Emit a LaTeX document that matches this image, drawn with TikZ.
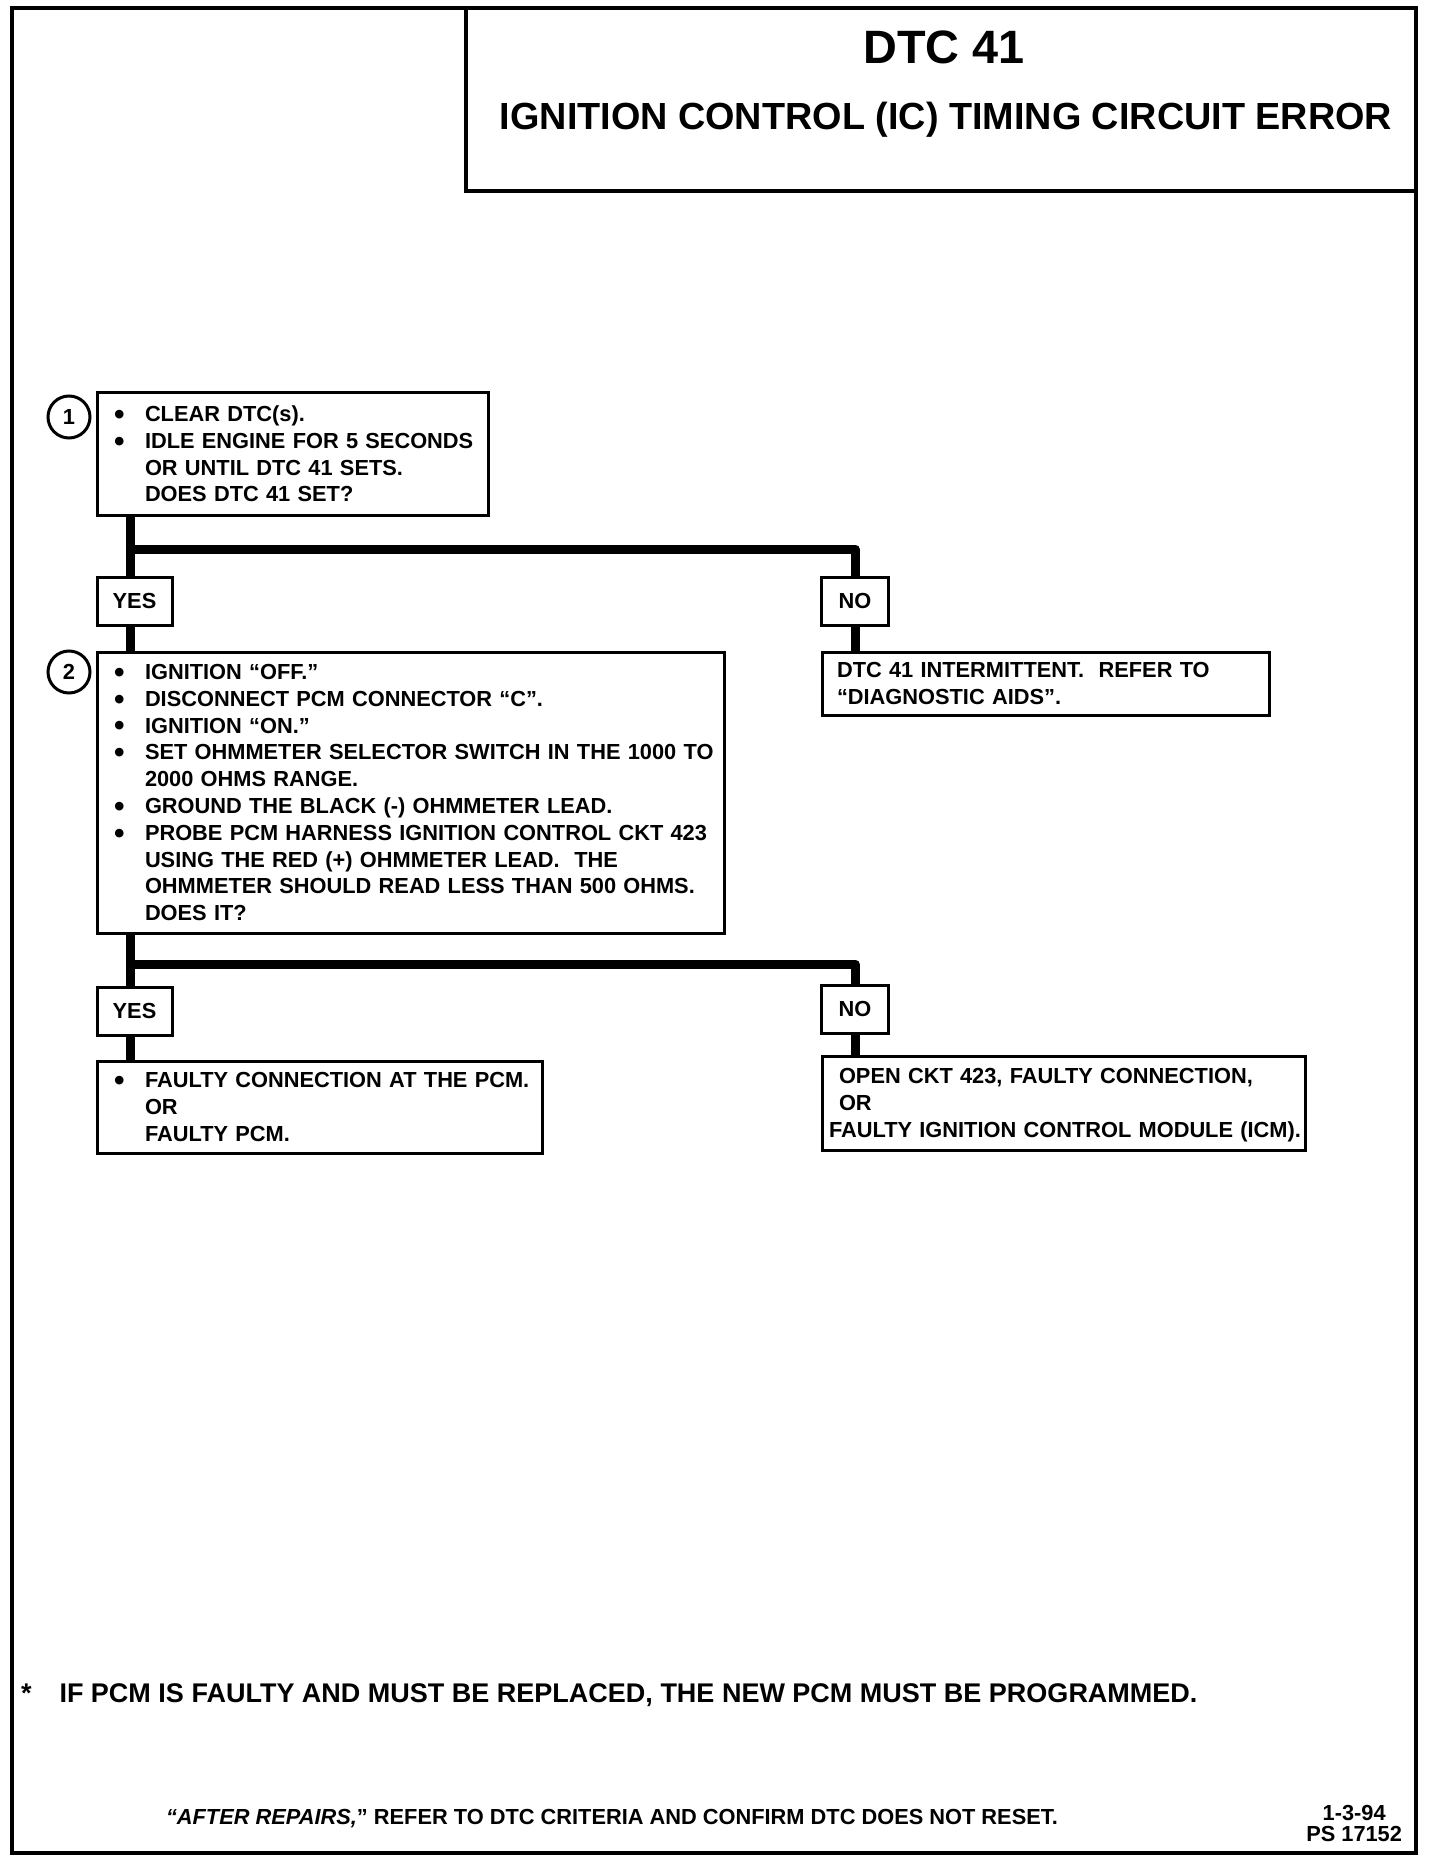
\documentclass[tikz,border=0pt]{standalone}
\usepackage{fontspec}
\setmainfont{Liberation Sans}
\usetikzlibrary{positioning}
\setlength{\parindent}{0pt}
\newcommand{\bitem}{\hspace*{8.5pt}\makebox[15.5pt][l]{\raisebox{-1.4pt}{\fontsize{15}{13.4}\selectfont\textbullet}}} % bullet line
\newcommand{\bcont}{\hspace*{24pt}} % follow-on line under a bullet
\tikzset{
	every node/.style={font=\bfseries\fontsize{10.9}{13.4}\selectfont, outer sep=0pt}, % bold sans text everywhere
	stepbox/.style={draw, line width=1.5pt, anchor=north west, align=left, inner sep=0pt}, % the text boxes
	answer/.style={draw, line width=1.5pt, minimum height=24pt, inner sep=0pt}, % YES / NO tags
	numcirc/.style={draw, circle, line width=1.5pt, minimum size=21pt, inner sep=0pt}, % step numbers
	flow/.style={line width=4.5pt, line join=round}, % heavy flow lines
}

\begin{document}
\begin{tikzpicture}[x=0.5pt, y=-0.5pt]
	\useasboundingbox (0,0) rectangle (1440,1866);
	\draw[line width=2pt] (12,8) rectangle (1416,1853);
	\draw[line width=2pt] (466,8) rectangle (1416,191);
	\node[anchor=base, font=\bfseries\fontsize{23.4}{28}\selectfont] (code) at (944,64) {DTC 41};
	\node[anchor=base, font=\bfseries\fontsize{18.9}{22}\selectfont] (title) at (946,130) {IGNITION CONTROL (IC) TIMING CIRCUIT ERROR};

	% step 1
	\node[stepbox, text width=195.5pt, minimum height=61pt] (s1) at (97,393)
		{\bitem CLEAR DTC(s).\\ \bitem IDLE ENGINE FOR 5 SECONDS\\ \bcont OR UNTIL DTC 41 SETS.\\ \bcont DOES DTC 41 SET?};
	\node[numcirc] (n1) at (69,417) {1};
	\node[answer, minimum width=37.5pt, below=31pt of s1.south west, anchor=north west] (yes1) {YES};
	\node[answer, minimum width=33.5pt] (no1) at (855,601) {NO};
	\node[stepbox, text width=223.5pt, minimum height=31.5pt] (r1) at (822,652)
		{\hspace*{7.5pt}DTC 41 INTERMITTENT.\ \ REFER TO\\ \hspace*{7.5pt}“DIAGNOSTIC AIDS”.};

	% step 2
	\node[stepbox, text width=313.5pt, minimum height=140.5pt, below=13.5pt of yes1.south west, anchor=north west] (s2)
		{\bitem IGNITION “OFF.”\\ \bitem DISCONNECT PCM CONNECTOR “C”.\\ \bitem IGNITION “ON.”\\
		\bitem SET OHMMETER SELECTOR SWITCH IN THE 1000 TO\\ \bcont 2000 OHMS RANGE.\\
		\bitem GROUND THE BLACK (-) OHMMETER LEAD.\\ \bitem PROBE PCM HARNESS IGNITION CONTROL CKT 423\\
		\bcont USING THE RED (+) OHMMETER LEAD.\ \ THE\\ \bcont OHMMETER SHOULD READ LESS THAN 500 OHMS.\\ \bcont DOES IT?};
	\node[numcirc] (n2) at (69,672) {2};
	\node[answer, minimum width=37.5pt, below=27pt of s2.south west, anchor=north west] (yes2) {YES};
	\node[answer, minimum width=33.5pt] (no2) at (855,1009) {NO};
	\node[stepbox, text width=222.5pt, minimum height=46pt, below=13pt of yes2.south west, anchor=north west] (r2)
		{\bitem FAULTY CONNECTION AT THE PCM.\\ \bcont OR\\ \bcont FAULTY PCM.};
	\node[stepbox, text width=241.5pt, minimum height=47pt] (r3) at (822,1056)
		{\hspace*{8.5pt}OPEN CKT 423, FAULTY CONNECTION,\\ \hspace*{8.5pt}OR\\ \hspace*{3.5pt}\smash{FAULTY IGNITION CONTROL MODULE (ICM).}};

	% flow lines
	\coordinate (j1) at (130,549);
	\coordinate (j2) at (130,964);
	\draw[flow] (s1.south -| j1) -- (yes1.north -| j1);
	\draw[flow] (yes1.south -| j1) -- (s2.north -| j1);
	\draw[flow] (j1) -- (j1 -| no1) -- (no1.north);
	\draw[flow] (no1.south) -- (r1.north -| no1);
	\draw[flow] (s2.south -| j2) -- (yes2.north -| j2);
	\draw[flow] (yes2.south -| j2) -- (r2.north -| j2);
	\draw[flow] (j2) -- (j2 -| no2) -- (no2.north);
	\draw[flow] (no2.south) -- (r3.north -| no2);

	% notes at the foot
	\node[anchor=base west, inner sep=0pt, font=\bfseries\fontsize{13.5}{16}\selectfont] (note) at (21,1702)
		{*\hspace{14pt}IF PCM IS FAULTY AND MUST BE REPLACED, THE NEW PCM MUST BE PROGRAMMED.};
	\node[anchor=base west, inner sep=0pt] (repairs) at (166,1824)
		{\textit{“AFTER REPAIRS,}” REFER TO DTC CRITERIA AND CONFIRM DTC DOES NOT RESET.};
	\node[anchor=east, align=center, inner sep=0pt, font=\bfseries\fontsize{10.9}{10.5}\selectfont] (stamp) at (1402,1823)
		{1-3-94\\PS 17152};
\end{tikzpicture}
\end{document}
